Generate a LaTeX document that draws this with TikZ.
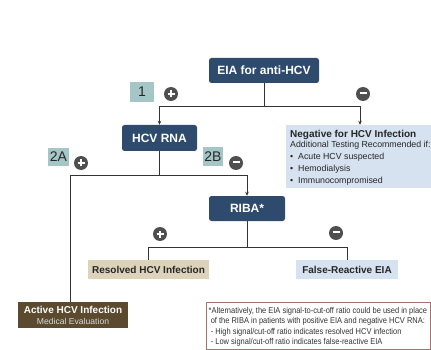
\documentclass[tikz,border=0pt]{standalone}
\usepackage{fontspec}
\usepackage{graphicx}
\setmainfont{Liberation Sans}
\usetikzlibrary{arrows.meta}
\definecolor{dblue}{HTML}{2E4A6D}
\definecolor{lblue}{HTML}{D6E2EF}
\definecolor{tan}{HTML}{DDD3BB}
\definecolor{dbrown}{HTML}{5C4A2E}
\definecolor{teal}{HTML}{A5C6C7}
\definecolor{circ}{HTML}{4F4F4F}
\definecolor{fnborder}{HTML}{A87070}
\definecolor{linec}{HTML}{333333}
\tikzset{
  darkbox/.style={fill=dblue, rounded corners=2.5pt, text=white, font=\fontsize{12}{14}\selectfont\bfseries, inner sep=0pt},
  lbl/.style={fill=teal, inner sep=0pt, font=\fontsize{14}{16}\selectfont, text=black!85},
  pm/.style={circle, fill=circ, minimum size=14pt, inner sep=0pt, text=white},
  conn/.style={draw=linec, line width=0.8pt},
  arr/.style={conn, -{Stealth[length=4pt,width=3.5pt]}},
  resbox/.style={inner sep=0pt, font=\fontsize{10}{12}\selectfont\bfseries, text=black!85},
}
\newcommand{\plussign}{\tikz[baseline=-0.5ex]{\draw[white,line width=2pt] (-3.5pt,0)--(3.5pt,0) (0,-3.5pt)--(0,3.5pt);}}
\newcommand{\minussign}{\tikz[baseline=-0.5ex]{\draw[white,line width=2pt] (-3.5pt,0)--(3.5pt,0);}}
\begin{document}
\begin{tikzpicture}[x=1pt,y=-1pt]
\useasboundingbox (0,0) rectangle (431,350);
% boxes
\node[darkbox, minimum width=110pt, minimum height=25pt] (eia) at (264,70.5) {EIA for anti-HCV};
\node[darkbox, minimum width=75pt, minimum height=26pt] (rna) at (159.5,138) {HCV RNA};
\node[darkbox, minimum width=76pt, minimum height=25pt] (riba) at (247,208.5) {RIBA*};
\node[fill=lblue, minimum width=145pt, minimum height=63pt, inner sep=0pt] (neg) at (358.5,156.5) {};
\node[anchor=north west, inner sep=0pt, align=left, text=black!85, font=\fontsize{8.8}{12}\selectfont] (negt) at (290,130)
 {{\fontsize{10}{12}\selectfont\bfseries Negative for HCV Infection}\\[-1.5pt]
  Additional Testing Recommended if:\\
  \textbullet\ \ Acute HCV suspected\\
  \textbullet\ \ Hemodialysis\\
  \textbullet\ \ Immunocompromised};
\node[resbox, fill=tan, minimum width=121pt, minimum height=19pt] (res) at (148.5,269.5) {Resolved HCV Infection};
\node[resbox, fill=lblue, minimum width=102pt, minimum height=19pt] (fal) at (347,269.5) {False-Reactive EIA};
\node[fill=dbrown, minimum width=110pt, minimum height=26pt, inner sep=0pt, align=center, text=white] (act) at (73,315)
 {{\fontsize{10}{11}\selectfont\bfseries Active HCV Infection}\\[-1pt]{\fontsize{8.6}{10}\selectfont\color{white!85!black} Medical Evaluation}};
\node[draw=fnborder, line width=0.5pt, fill=white, minimum width=224pt, minimum height=47pt, inner sep=0pt] (fn) at (318.5,325.5) {};
\node[anchor=north west, inner sep=0pt, text=black!80] (fnt) at (208.5,306.5)
 {\scalebox{0.88}[1]{\fontsize{8.5}{10}\selectfont\begin{tabular}{@{}l@{}}
  *Alternatively, the EIA signal-to-cut-off ratio could be used in place\\
  \ of the RIBA in patients with positive EIA and negative HCV RNA:\\[1pt]
  \ - High signal/cut-off ratio indicates resolved HCV infection\\
  \ - Low signal/cut-off ratio indicates false-reactive EIA
  \end{tabular}}};
% labels
\node[lbl, minimum width=24pt, minimum height=20pt] (l1) at (142,92) {1};
\node[lbl, minimum width=21pt, minimum height=18pt] (l2a) at (58.5,157) {2A};
\node[lbl, minimum width=20pt, minimum height=19pt] (l2b) at (213,156.5) {2B};
% plus/minus
\node[pm] (p1) at (171,94) {\plussign};
\node[pm] (m1) at (363,94) {\minussign};
\node[pm] (p2) at (81,163) {\plussign};
\node[pm] (m2) at (236,163) {\minussign};
\node[pm] (p3) at (160,234) {\plussign};
\node[pm] (m3) at (336,233) {\minussign};
% connectors
\coordinate (j1) at (264,106);
\coordinate (j2) at (159.5,175);
\coordinate (j3) at (247,247);
\draw[conn] (eia.south) -- (j1);
\draw[arr] (j1) -| (rna.north);
\draw[arr] (j1) -| ([xshift=1.5pt]neg.north);
\draw[conn] (rna.south) -- (j2);
\draw[conn] (j2) -| ([xshift=-3pt]act.north);
\draw[arr] (j2) -| (riba.north);
\draw[conn] (riba.south) -- (j3);
\draw[conn] (j3) -| (res.north);
\draw[conn] (j3) -| (fal.north);
\end{tikzpicture}
\end{document}
